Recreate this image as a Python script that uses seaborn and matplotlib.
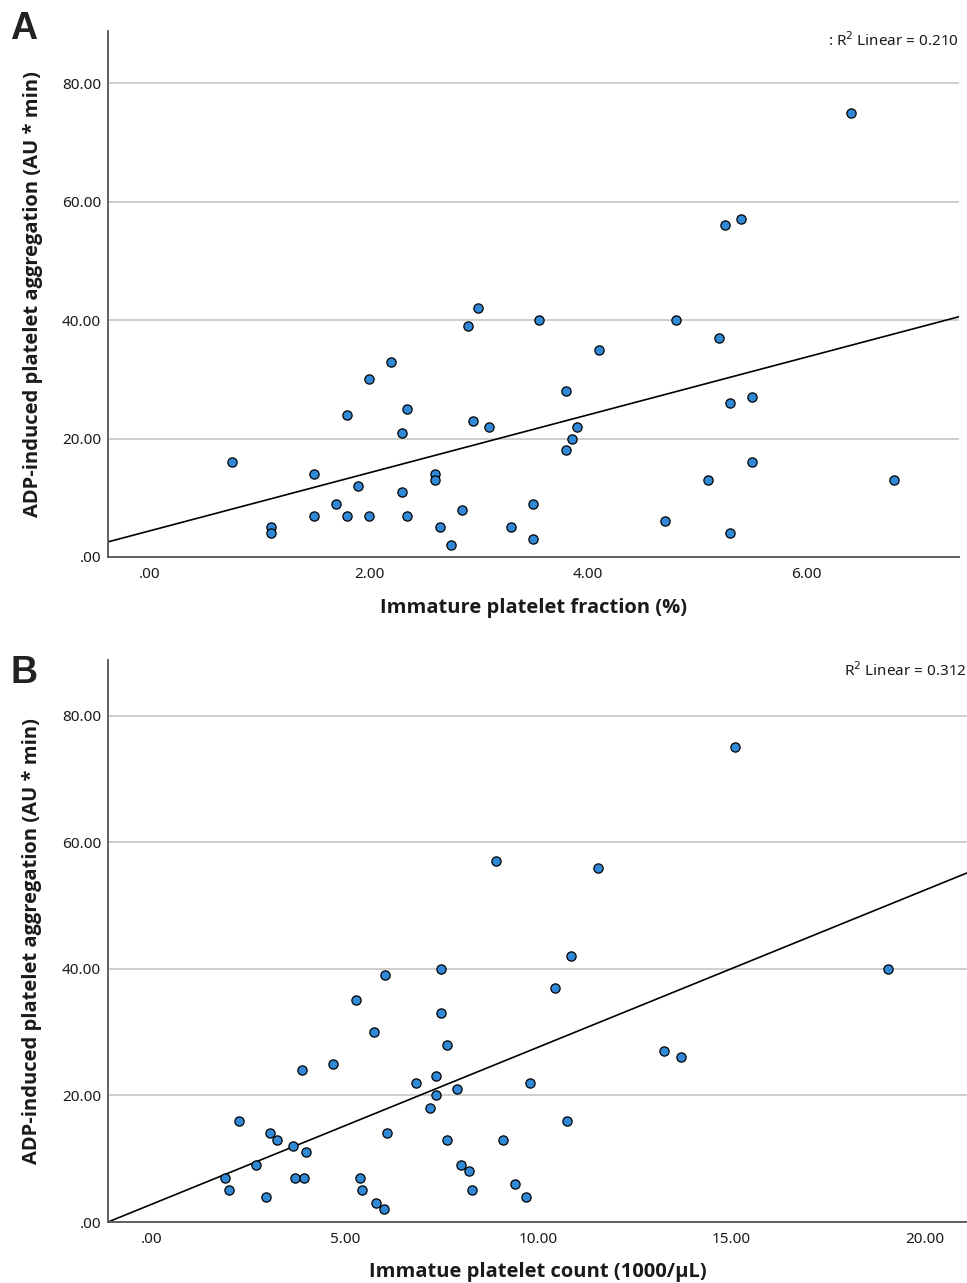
import numpy as np
import pandas as pd
import matplotlib.pyplot as plt
import seaborn as sns
from matplotlib.ticker import FuncFormatter

# Panel A: immature platelet fraction (%) vs ADP-induced aggregation
ipf_pct = [0.75, 1.1, 1.1, 1.5, 1.5, 1.7, 1.8, 1.8, 1.9, 2.0, 2.0, 2.2, 2.3, 2.3,
           2.35, 2.35, 2.6, 2.6, 2.65, 2.75, 2.85, 2.9, 3.0, 2.95, 3.1,
           3.55, 4.8, 5.2, 4.1, 3.8, 3.9, 3.85, 3.8, 5.3, 5.5, 5.5, 5.1, 6.8,
           3.5, 3.3, 3.5, 4.7, 5.3, 6.4, 5.25, 5.4]
adp_agg_a = [16, 5, 4, 14, 7, 9, 24, 7, 12, 30, 7, 33, 21, 11,
             25, 7, 14, 13, 5, 2, 8, 39, 42, 23, 22,
             40, 40, 37, 35, 28, 22, 20, 18, 26, 27, 16, 13, 13,
             9, 5, 3, 6, 4, 75, 56, 57]

# Panel B: immature platelet count (1000/uL) vs ADP-induced aggregation
ipc_count = [1.9, 2.0, 2.25, 2.7, 2.95, 3.05, 3.25, 3.65, 3.7, 4.0, 3.95, 3.9,
             4.7, 5.3, 5.75, 6.05, 6.1, 5.4, 5.45, 5.8, 6.0, 6.85, 7.35, 7.35,
             7.2, 7.5, 7.5, 7.65, 7.65, 7.9, 8.0, 8.2, 8.3, 9.1, 10.85, 10.45,
             9.8, 10.75, 13.25, 13.7, 19.05, 9.4, 9.7, 15.1, 8.9, 11.55]
adp_agg_b = [7, 5, 16, 9, 4, 14, 13, 12, 7, 11, 7, 24,
             25, 35, 30, 39, 14, 7, 5, 3, 2, 22, 23, 20,
             18, 40, 33, 28, 13, 21, 9, 8, 5, 13, 42, 37,
             22, 16, 27, 26, 40, 6, 4, 75, 57, 56]

y_ticks = [0, 20, 40, 60, 80]
x_ticks_a = [0, 2, 4, 6]
x_ticks_b = [0, 5, 10, 15, 20]
r2_label_a = ": R$^2$ Linear = 0.210"
r2_label_b = "R$^2$ Linear = 0.312"
y_label = "ADP-induced platelet aggregation (AU * min)"
x_label_a = "Immature platelet fraction (%)"
x_label_b = "Immatue platelet count (1000/\u00b5L)"

sns.set_theme(style="white")
plt.rcParams['font.family'] = ['Noto Sans', 'DejaVu Sans']

MARKER = "#3088d6"
TEXT = "#1a1a1a"
LABEL_FONT = ['Open Sans', 'DejaVu Sans']


def spss_fmt(v, pos):
    s = f"{v:.2f}"
    return s[1:] if s.startswith("0") else s


def draw_panel(ax, x, y, xlim, xticks, xlabel, r2_label, xlab_y):
    df = pd.DataFrame({"x": x, "y": y})
    ax.set_xlim(*xlim)
    sns.regplot(data=df, x="x", y="y", ax=ax, ci=None, truncate=False,
                scatter_kws=dict(s=44, color=MARKER, edgecolors="black",
                                 linewidths=0.9, alpha=1, zorder=3),
                line_kws=dict(color="black", lw=1.2, zorder=2))
    ax.set_xlim(*xlim)
    ax.set_ylim(0, 88.8)
    ax.set_yticks(y_ticks)
    ax.set_xticks(xticks)
    ax.xaxis.set_major_formatter(FuncFormatter(spss_fmt))
    ax.yaxis.set_major_formatter(FuncFormatter(spss_fmt))
    ax.tick_params(length=0, labelsize=11, colors=TEXT)
    ax.tick_params(axis="x", pad=7)
    ax.tick_params(axis="y", pad=5)
    ax.yaxis.grid(True, color="#c6c6c6", lw=1.2)
    ax.xaxis.grid(False)
    ax.set_axisbelow(True)
    for side in ["top", "right"]:
        ax.spines[side].set_visible(False)
    for side in ["left", "bottom"]:
        ax.spines[side].set_color("#555555")
        ax.spines[side].set_linewidth(1.3)
    ax.set_ylabel(y_label, fontsize=14.5, fontweight="bold", color=TEXT,
                  family=LABEL_FONT)
    ax.set_xlabel(xlabel, fontsize=14.5, fontweight="bold", color=TEXT,
                  family=LABEL_FONT)
    ax.yaxis.label.set_va("center")
    ax.xaxis.label.set_va("center")
    ax.yaxis.set_label_coords(-0.088, 0.5)
    ax.xaxis.set_label_coords(0.5, xlab_y)
    ax.text(1.0, 0.981, r2_label, transform=ax.transAxes, ha="right",
            va="center", fontsize=11, color=TEXT)


fig = plt.figure(figsize=(9.67, 12.83), dpi=100)
ax_a = fig.add_axes([108 / 967, 1 - 557 / 1283, 851 / 967, 526 / 1283])
ax_b = fig.add_axes([108 / 967, 1 - 1222 / 1283, 859 / 967, 562 / 1283])

draw_panel(ax_a, ipf_pct, adp_agg_a, (-0.385, 7.39), x_ticks_a, x_label_a,
           r2_label_a, -0.097)
draw_panel(ax_b, ipc_count, adp_agg_b, (-1.13, 21.1), x_ticks_b, x_label_b,
           r2_label_b, -0.089)

fig.text(24 / 967, 1 - 29 / 1283, "A", fontsize=27, fontweight="bold",
         family="Liberation Sans", color="#222222", ha="center", va="center")
fig.text(24 / 967, 1 - 673 / 1283, "B", fontsize=27, fontweight="bold",
         family="Liberation Sans", color="#222222", ha="center", va="center")

fig.savefig("out.png", dpi=100)
